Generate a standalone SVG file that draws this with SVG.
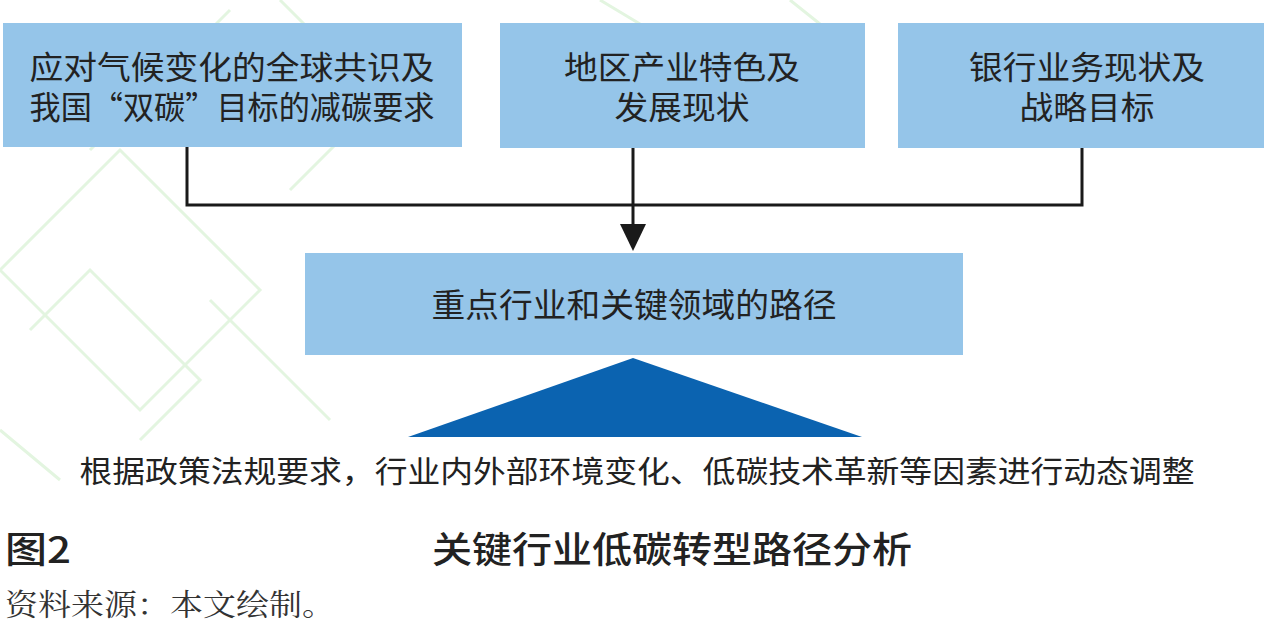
<svg xmlns="http://www.w3.org/2000/svg" width="1268" height="635" viewBox="0 0 1268 635">
<style>
.box{fill:#95c5e9}
.t{font-family:"Noto Sans CJK SC",sans-serif;fill:#222;text-anchor:middle}
.ln{stroke:#1a1a1a;stroke-width:3;fill:none}
.bg{stroke:#e3f5e0;stroke-width:3;fill:none}
</style>
<rect width="1268" height="635" fill="#fff"/>
<g id="bg">
<path class="bg" d="M0,270 L120,150 L260,290 L140,410 Z"/>
<path class="bg" d="M30,330 L90,270 L200,380 L140,440"/>
<path class="bg" d="M90,150 L230,10 M280,0 L380,100 L290,190 M0,430 L60,480 M210,300 L330,420 M600,0 L650,30 M790,0 L840,40"/>
</g>
<g id="connectors">
<polyline class="ln" points="187,147 187,205 1082,205 1082,148"/>
<line x1="633" y1="148" x2="633" y2="225" class="ln"/>
<path d="M620,224 L646,224 L633,251 Z" fill="#1a1a1a"/>
</g>
<g id="n1"><rect class="box" x="3" y="23" width="459" height="124"/>
<text class="t" x="232" y="79" font-size="32" textLength="405" lengthAdjust="spacingAndGlyphs">应对气候变化的全球共识及</text>
<text class="t" x="232" y="119" font-size="32" textLength="405" lengthAdjust="spacingAndGlyphs">我国“双碳”目标的减碳要求</text></g>
<g id="n2"><rect class="box" x="500" y="23" width="365" height="125"/>
<text class="t" x="682" y="79" font-size="32" textLength="236" lengthAdjust="spacingAndGlyphs">地区产业特色及</text>
<text class="t" x="682" y="119" font-size="32" textLength="135" lengthAdjust="spacingAndGlyphs">发展现状</text></g>
<g id="n3"><rect class="box" x="898" y="23" width="366" height="125"/>
<text class="t" x="1087" y="79" font-size="32" textLength="236" lengthAdjust="spacingAndGlyphs">银行业务现状及</text>
<text class="t" x="1087" y="119" font-size="32" textLength="135" lengthAdjust="spacingAndGlyphs">战略目标</text></g>
<g id="n4"><rect class="box" x="305" y="253" width="658" height="102"/>
<text class="t" x="634" y="317" font-size="33" textLength="405" lengthAdjust="spacingAndGlyphs">重点行业和关键领域的路径</text></g>
<g id="tri"><path d="M408,437 L633,358 L862,437 Z" fill="#0b63b0"/></g>
<text class="t" x="637" y="482" font-size="30" textLength="1115" lengthAdjust="spacingAndGlyphs">根据政策法规要求，行业内外部环境变化、低碳技术革新等因素进行动态调整</text>
<text class="t" x="5" y="563" font-size="36" textLength="66" lengthAdjust="spacingAndGlyphs" style="text-anchor:start;font-weight:500">图2</text>
<text class="t" x="672" y="563" font-size="36" textLength="480" lengthAdjust="spacingAndGlyphs" style="font-weight:500">关键行业低碳转型路径分析</text>
<text x="5" y="615" font-size="30" textLength="330" lengthAdjust="spacingAndGlyphs" fill="#333" font-family="'Noto Serif CJK SC','Noto Sans CJK SC',serif">资料来源：本文绘制。</text>
</svg>
